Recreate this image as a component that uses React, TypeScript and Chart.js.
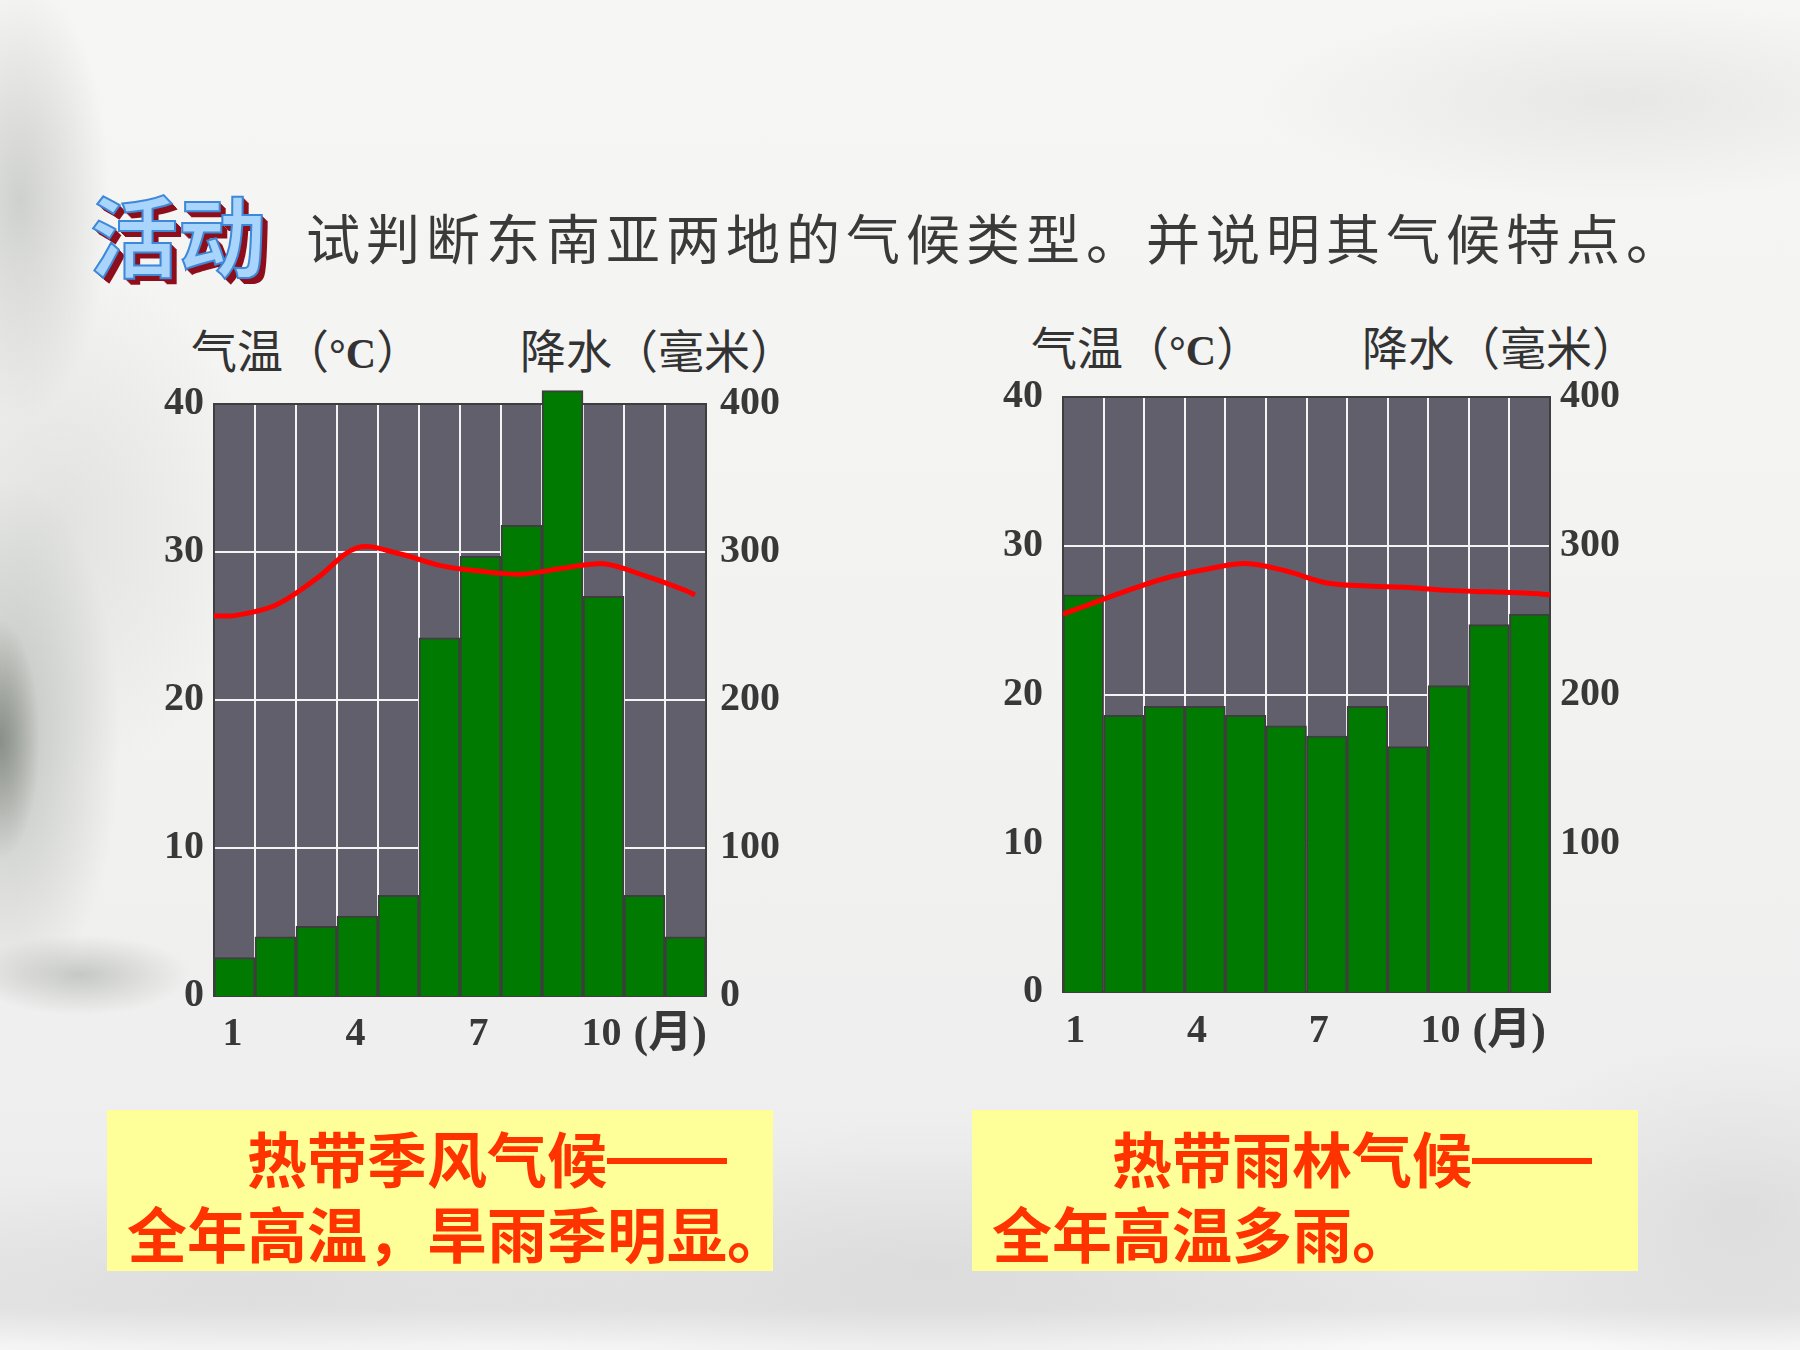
import React, { useEffect, useRef } from "react";
import { Chart, registerables } from "chart.js";

Chart.register(...registerables);

// ---------- data ----------
const MONTH_LABELS = [1, 4, 7, 10];
const TEMP_TICKS = [0, 10, 20, 30, 40];
const RAIN_TICKS_MONSOON = [0, 100, 200, 300, 400];
const RAIN_TICKS_RAINFOREST = [100, 200, 300, 400];

const MONTHS = [1, 2, 3, 4, 5, 6, 7, 8, 9, 10, 11, 12];

// 热带季风气候 (left)
const monsoonRain = [26, 40, 47, 54, 68, 242, 297, 318, 409, 270, 68, 40];
const monsoonTempX = [0.5, 1, 2, 3, 4, 5, 6, 7, 8, 9, 10, 11, 12, 12.23];
const monsoonTemp = [25.7, 25.7, 26.4, 28.2, 30.3, 29.9, 29.1, 28.7, 28.5, 28.9, 29.2, 28.4, 27.4, 27.1];

// 热带雨林气候 (right)
const rainforestRain = [267, 186, 192, 192, 186, 179, 172, 192, 165, 206, 247, 254];
const rainforestTempX = [0.5, 1, 2, 3, 4, 5, 6, 7, 8, 9, 10, 11, 12, 12.5];
const rainforestTemp = [25.4, 25.9, 26.9, 27.8, 28.4, 28.8, 28.3, 27.5, 27.3, 27.2, 27.0, 26.9, 26.8, 26.7];

// ---------- styles ----------
const PLOT_BG = "#625f6c";
const GRID = "#f4f4f4";
const FRAME = "#3e3e3e";
const BAR_GREEN = "#007a00";
const LINE_RED = "#ff0000";
const TICK_COLOR = "#383838";
const TICK_FAMILY = "'Liberation Serif', 'Times New Roman', 'Noto Sans CJK SC', serif";
const TICK_SIZE = 40;
const UNIT_SIZE = 44;
const CJK = "'Noto Sans CJK SC', 'Noto Sans', sans-serif";

const plotBgPlugin = {
  id: "plotBg",
  beforeDraw(chart: any) {
    const { ctx, chartArea: a } = chart;
    ctx.save();
    ctx.fillStyle = PLOT_BG;
    ctx.fillRect(a.left, a.top, a.right - a.left, a.bottom - a.top);
    ctx.restore();
  },
};

const monthUnitPlugin = {
  id: "monthUnit",
  afterDraw(chart: any) {
    const s = chart.scales.x;
    const ctx = chart.ctx;
    ctx.save();
    ctx.font = `bold ${TICK_SIZE}px ${TICK_FAMILY}`;
    let cx = s.getPixelForValue(10) + (s.options.ticks.labelOffset || 0);
    let cy = s.top + (s.options.ticks.padding || 0) + (TICK_SIZE * 1.2) / 2;
    try {
      const items = s.getLabelItems();
      const it = items.find((i: any) => i.label === "10");
      if (it) {
        cx = it.options.translation[0];
        cy = it.options.translation[1] + (it.textOffset || 0);
      }
    } catch (e) {}
    const w = ctx.measureText("10").width;
    ctx.font = `bold ${UNIT_SIZE}px ${TICK_FAMILY}`;
    ctx.fillStyle = TICK_COLOR;
    ctx.textBaseline = "middle";
    ctx.textAlign = "left";
    ctx.fillText("(月)", cx + w / 2 + 12, cy + 1);
    ctx.restore();
  },
};

type ChartProps = {
  rain: number[];
  tempX: number[];
  temp: number[];
  rainTicks: number[];
  plotLeft: number;
  plotTop: number;
  plotW: number;
  plotH: number;
  yPad: number;
  y1Pad: number;
  xPad: number;
  labelShift: number;
};

const Y_W = 80;
const Y1_W = 100;
const TOP_PAD = 50;
const X_H = 80;

function ClimateChart(p: ChartProps) {
  const ref = useRef<HTMLCanvasElement | null>(null);
  const w = Y_W + p.plotW + Y1_W;
  const h = TOP_PAD + p.plotH + X_H;

  useEffect(() => {
    const tickFont = { family: TICK_FAMILY, size: TICK_SIZE, weight: "bold" as const };
    const chart = new Chart(ref.current as HTMLCanvasElement, {
      type: "bar",
      data: {
        datasets: [
          {
            type: "line",
            data: p.tempX.map((x, i) => ({ x, y: p.temp[i] })),
            yAxisID: "y",
            xAxisID: "x",
            borderColor: LINE_RED,
            borderWidth: 5,
            pointRadius: 0,
            tension: 0.35,
            fill: false,
            order: 0,
          } as any,
          {
            type: "bar",
            data: MONTHS.map((m, i) => ({ x: m, y: p.rain[i] })),
            yAxisID: "y1",
            xAxisID: "x",
            backgroundColor: BAR_GREEN,
            borderColor: FRAME,
            borderWidth: 2,
            barThickness: "flex",
            barPercentage: 1,
            categoryPercentage: 1,
            clip: false,
            order: 1,
          } as any,
        ],
      },
      options: {
        animation: false,
        responsive: false,
        maintainAspectRatio: false,
        events: [],
        layout: { padding: { top: TOP_PAD, left: 0, right: 0, bottom: 0 } },
        plugins: { legend: { display: false }, tooltip: { enabled: false } },
        scales: {
          x: {
            type: "linear",
            position: "bottom",
            min: 0.5,
            max: 12.5,
            offset: false,
            afterBuildTicks: (s: any) => {
              const t = [];
              for (let v = 0.5; v <= 12.5; v += 0.5) t.push({ value: v });
              s.ticks = t;
            },
            afterFit: (s: any) => {
              s.height = X_H;
            },
            ticks: {
              autoSkip: false,
              maxRotation: 0,
              minRotation: 0,
              padding: p.xPad,
              labelOffset: p.labelShift,
              color: TICK_COLOR,
              font: tickFont,
              callback: (v: any) => (MONTH_LABELS.includes(Number(v)) ? String(v) : ""),
            },
            grid: {
              offset: false,
              drawTicks: false,
              lineWidth: 2,
              color: (ctx: any) => {
                const v = ctx.tick ? ctx.tick.value : 0;
                if (v === 0.5 || v === 12.5) return FRAME;
                return Number.isInteger(v) ? "rgba(0,0,0,0)" : GRID;
              },
            },
            border: { display: true, color: FRAME, width: 2 },
          },
          y: {
            type: "linear",
            position: "left",
            min: 0,
            max: 40,
            afterBuildTicks: (s: any) => {
              s.ticks = TEMP_TICKS.map((v) => ({ value: v }));
            },
            afterFit: (s: any) => {
              s.width = Y_W;
            },
            ticks: { padding: p.yPad, color: TICK_COLOR, font: tickFont },
            grid: {
              drawTicks: false,
              lineWidth: 2,
              color: (ctx: any) => {
                const v = ctx.tick ? ctx.tick.value : 0;
                return v === 0 || v === 40 ? FRAME : GRID;
              },
            },
            border: { display: true, color: FRAME, width: 2 },
          },
          y1: {
            type: "linear",
            position: "right",
            min: 0,
            max: 400,
            afterBuildTicks: (s: any) => {
              s.ticks = p.rainTicks.map((v) => ({ value: v }));
            },
            afterFit: (s: any) => {
              s.width = Y1_W;
            },
            ticks: { padding: p.y1Pad, color: TICK_COLOR, font: tickFont },
            grid: { display: false, drawTicks: false },
            border: { display: true, color: FRAME, width: 2 },
          },
        },
      } as any,
      plugins: [plotBgPlugin, monthUnitPlugin],
    });
    return () => chart.destroy();
  }, []);

  return (
    <canvas
      ref={ref}
      width={w}
      height={h}
      style={{
        position: "absolute",
        left: p.plotLeft - Y_W,
        top: p.plotTop - TOP_PAD,
        width: w,
        height: h,
      }}
    />
  );
}

const background = [
  "radial-gradient(ellipse 40px 120px at 0px 740px, rgba(90,96,88,0.55), rgba(90,96,88,0) 100%)",
  "radial-gradient(ellipse 110px 260px at 10px 740px, rgba(135,142,133,0.45), rgba(135,142,133,0) 100%)",
  "radial-gradient(ellipse 110px 40px at 80px 975px, rgba(120,126,118,0.35), rgba(120,126,118,0) 100%)",
  "radial-gradient(ellipse 90px 220px at 20px 200px, rgba(160,164,158,0.45), rgba(160,164,158,0) 100%)",
  "radial-gradient(ellipse 200px 260px at 60px 520px, rgba(195,198,193,0.35), rgba(195,198,193,0) 100%)",
  "radial-gradient(ellipse 360px 100px at 1620px 100px, rgba(210,210,210,0.4), rgba(210,210,210,0) 100%)",
  "radial-gradient(ellipse 520px 150px at 930px 1270px, rgba(205,205,205,0.45), rgba(205,205,205,0) 100%)",
  "radial-gradient(ellipse 260px 170px at 1740px 1210px, rgba(205,205,205,0.45), rgba(205,205,205,0) 100%)",
  "radial-gradient(ellipse 480px 110px at 250px 1280px, rgba(210,210,210,0.45), rgba(210,210,210,0) 100%)",
  "linear-gradient(to bottom, rgba(255,255,255,0) 0px, rgba(255,255,255,0) 1310px, rgba(250,250,250,0.9) 1345px)",
  "linear-gradient(to bottom, #f6f6f5 0px, #f2f2f1 700px, #eeeeee 1150px, #e6e6e6 1300px)",
].join(", ");

const axisTitle: React.CSSProperties = {
  position: "absolute",
  fontFamily: CJK,
  fontSize: 46,
  lineHeight: "50px",
  color: "#333333",
  whiteSpace: "nowrap",
};

const degC: React.CSSProperties = {
  fontFamily: "'Liberation Serif', 'Times New Roman', serif",
  fontWeight: 700,
  fontSize: 42,
};

const boxStyle: React.CSSProperties = {
  position: "absolute",
  top: 1110,
  width: 666,
  height: 161,
  background: "#ffff99",
  boxSizing: "border-box",
  paddingTop: 12,
  paddingLeft: 20,
  fontFamily: CJK,
  fontWeight: 700,
  fontSize: 60,
  lineHeight: "69px",
  color: "#ff3300",
  whiteSpace: "nowrap",
};

const dash: React.CSSProperties = {
  fontFamily: "'Liberation Sans', Arial, sans-serif",
  position: "relative",
  top: -6,
};

export default function App() {
  return (
    <div
      style={{
        position: "absolute",
        left: 0,
        top: 0,
        width: 1800,
        height: 1350,
        overflow: "hidden",
        background,
      }}
    >
      <div
        style={{
          position: "absolute",
          left: 90,
          top: 188,
          fontFamily: CJK,
          fontWeight: 700,
          fontSize: 88,
          lineHeight: 1,
          color: "#a9d4fb",
          WebkitTextStroke: "2px #3d88d8",
          textShadow:
            "1px 1px 0 #8e0f1c, 2px 2px 0 #8e0f1c, 3px 3px 0 #8e0f1c, 4px 4px 0 #8e0f1c, 5px 5px 0 #8e0f1c, 6px 6px 0 #8e0f1c",
          whiteSpace: "nowrap",
        }}
      >
        活动
      </div>
      <div
        style={{
          position: "absolute",
          left: 306,
          top: 210,
          fontFamily: CJK,
          fontSize: 54,
          lineHeight: 1,
          letterSpacing: 6,
          color: "#3a3a3a",
          whiteSpace: "nowrap",
        }}
      >
        试判断东南亚两地的气候类型。并说明其气候特点。
      </div>

      <div style={{ ...axisTitle, left: 191, top: 323 }}>
        气温（<span style={degC}>°C</span>）
      </div>
      <div style={{ ...axisTitle, left: 520, top: 323 }}>降水（毫米）</div>
      <div style={{ ...axisTitle, left: 1031, top: 320 }}>
        气温（<span style={degC}>°C</span>）
      </div>
      <div style={{ ...axisTitle, left: 1362, top: 320 }}>降水（毫米）</div>

      <ClimateChart
        rain={monsoonRain}
        tempX={monsoonTempX}
        temp={monsoonTemp}
        rainTicks={RAIN_TICKS_MONSOON}
        plotLeft={214}
        plotTop={404}
        plotW={492}
        plotH={592}
        yPad={10}
        y1Pad={14}
        xPad={15}
        labelShift={-2}
      />
      <ClimateChart
        rain={rainforestRain}
        tempX={rainforestTempX}
        temp={rainforestTemp}
        rainTicks={RAIN_TICKS_RAINFOREST}
        plotLeft={1063}
        plotTop={397}
        plotW={487}
        plotH={595}
        yPad={20}
        y1Pad={10}
        xPad={16}
        labelShift={-8}
      />

      <div style={{ ...boxStyle, left: 107 }}>
        <div style={{ textIndent: "2em" }}>
          热带季风气候<span style={dash}>——</span>
        </div>
        <div>全年高温，旱雨季明显。</div>
      </div>
      <div style={{ ...boxStyle, left: 972 }}>
        <div style={{ textIndent: "2em" }}>
          热带雨林气候<span style={dash}>——</span>
        </div>
        <div>全年高温多雨。</div>
      </div>
    </div>
  );
}
